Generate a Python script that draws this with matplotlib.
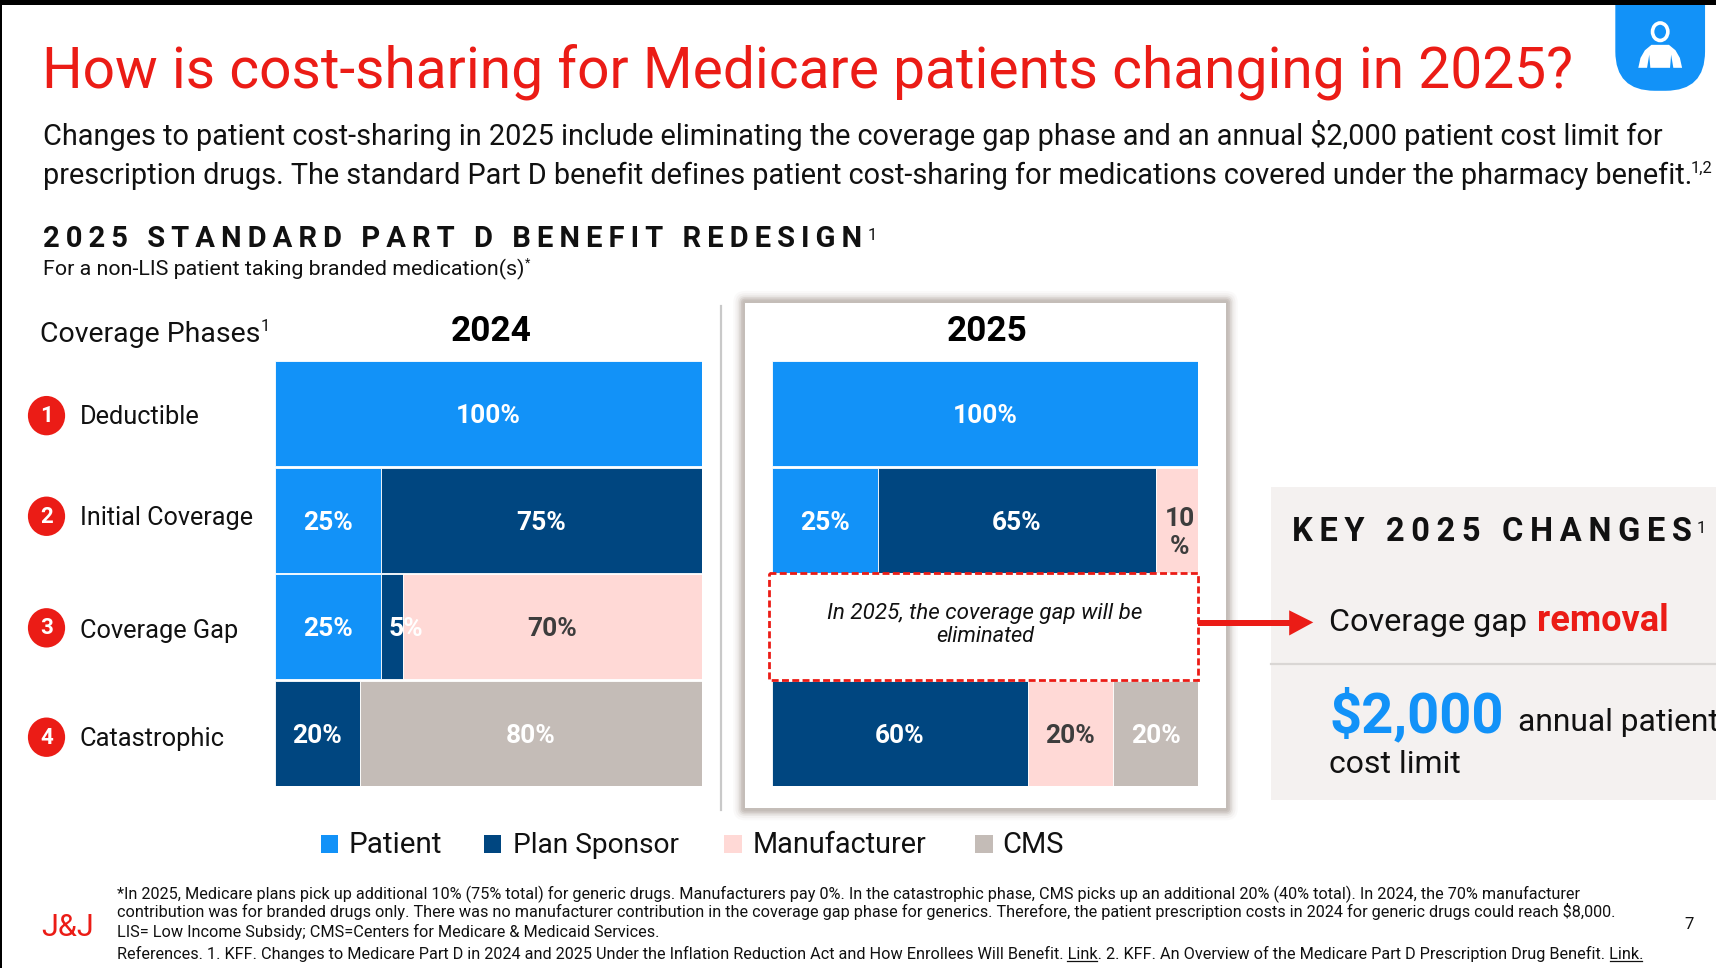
import matplotlib
matplotlib.use('Agg')
import matplotlib.pyplot as plt
from matplotlib.patches import Rectangle, Ellipse, FancyBboxPatch, Polygon

plt.rcParams['font.family'] = ['Roboto', 'Liberation Sans', 'DejaVu Sans']

# slide coordinates are the 1568x885 view of the picture
W, H = 1568, 885
SCALE = 1716 / W

RED = '#EB1C16'
BLUE = '#1292F8'
NAVY = '#004680'
PINK = '#FFD9D6'
GREY = '#C4BCB7'
PANEL = '#F4F1F0'

phases = ['Deductible', 'Initial Coverage', 'Coverage Gap', 'Catastrophic']
payers = ['Patient', 'Plan Sponsor', 'Manufacturer', 'CMS']
payer_colors = [BLUE, NAVY, PINK, GREY]

patient_2024 = [100, 25, 25, 0]
sponsor_2024 = [0, 75, 5, 20]
manufacturer_2024 = [0, 0, 70, 0]
cms_2024 = [0, 0, 0, 80]

patient_2025 = [100, 25, 0, 0]
sponsor_2025 = [0, 65, 0, 60]
manufacturer_2025 = [0, 10, 0, 20]
cms_2025 = [0, 0, 0, 20]

title = 'How is cost-sharing for Medicare patients changing in 2025?'
intro_1 = 'Changes to patient cost-sharing in 2025 include eliminating the coverage gap phase and an annual $2,000 patient cost limit for'
intro_2 = 'prescription drugs. The standard Part D benefit defines patient cost-sharing for medications covered under the pharmacy benefit.'
heading = '2025 STANDARD PART D BENEFIT REDESIGN'
subheading = 'For a non-LIS patient taking branded medication(s)'
key_heading = 'KEY 2025 CHANGES'
foot_1 = '*In 2025, Medicare plans pick up additional 10% (75% total) for generic drugs. Manufacturers pay 0%. In the catastrophic phase, CMS picks up an additional 20% (40% total). In 2024, the 70% manufacturer'
foot_2 = 'contribution was for branded drugs only. There was no manufacturer contribution in the coverage gap phase for generics. Therefore, the patient prescription costs in 2024 for generic drugs could reach $8,000.'
foot_3 = 'LIS= Low Income Subsidy; CMS=Centers for Medicare & Medicaid Services.'
foot_4 = 'References. 1. KFF. Changes to Medicare Part D in 2024 and 2025 Under the Inflation Reduction Act and How Enrollees Will Benefit. Link. 2. KFF. An Overview of the Medicare Part D Prescription Drug Benefit. Link.'

fig = plt.figure(figsize=(17.16, 9.68), dpi=100, facecolor='white')
page = fig.add_axes([0, 0, 1, 1])
page.set_xlim(0, W)
page.set_ylim(H, 0)
page.axis('off')
renderer = fig.canvas.get_renderer()


def put(x, y, s, width=None, size=14, ax=page, **kw):
    # baseline text, font size is fitted so the string gets the wanted width
    kw.setdefault('color', '#111111')
    t = ax.text(x, y, s, fontsize=size, va='baseline', **kw)
    if width is not None:
        now = t.get_window_extent(renderer).width
        t.set_fontsize(size * width * SCALE / now)
    return t


def spaced(s):
    return '\u2009'.join(s)


def stacked(left, right, top, bottom, patient, sponsor, manufacturer, cms):
    ax = fig.add_axes([left / W, 1 - bottom / H, (right - left) / W, (bottom - top) / H])
    ax.set_xlim(0, 100)
    ax.set_ylim(len(phases) - 0.5, -0.5)
    ax.axis('off')
    start = [0] * len(phases)
    for values, color in zip([patient, sponsor, manufacturer, cms], payer_colors):
        ax.barh(range(len(phases)), values, left=start, height=0.985, color=color,
                edgecolor='white', linewidth=0.6)
        for row, v in enumerate(values):
            if v == 0:
                continue
            label = f'{v}%'
            xc = start[row] + v / 2
            yc = row + 0.025
            tc = '#3D3D3D' if color == PINK else 'white'
            if v == 5:
                # this label does not fit its segment and runs over the pink one
                xc = start[row] + 5.8
            if v == 10:
                label = '10\n%'
                xc += 0.6
                yc = row + 0.12
            ax.text(xc, yc, label, color=tc, fontsize=19, fontweight='bold',
                    ha='center', va='center', linespacing=1.25)
        start = [a + b for a, b in zip(start, values)]
    return ax


# header strip and edge
page.add_patch(FancyBboxPatch((1476, -40), 82, 123, boxstyle='round,pad=0,rounding_size=36',
                              fc=BLUE, ec='none', zorder=1))
page.add_patch(Rectangle((0, 0), W, 5, fc='black', ec='none', zorder=2))
page.add_patch(Rectangle((0, 0), 1.5, H, fc='black', ec='none', zorder=2))
page.add_patch(Ellipse((1517, 29), 14, 16, fc='none', ec='white', lw=2.6, zorder=3))
page.add_patch(Polygon([(1497, 62), (1499, 53), (1503, 46), (1509, 41), (1525, 41), (1531, 46), (1535, 53), (1537, 62),
                        (1529, 62), (1527, 50), (1526, 62), (1508, 62), (1507, 50), (1505, 62)],
                       closed=True, fc='white', ec='none', zorder=3))

put(38.5, 80, title, width=1396, size=48, color=RED)
put(39, 133, intro_1, width=1476, size=20)
put(39, 168, intro_2, width=1505, size=20)
put(1545, 158, '1,2', width=20, size=11)
put(39, 226, spaced(heading), width=747, size=20, fontweight='bold')
put(793, 219, '1', size=12)
put(39, 252, subheading, width=441, size=15)
put(480, 244, '*', size=9)

# coverage phases column
put(37, 313, 'Coverage Phases', width=201, size=20)
put(238, 303, '1', size=12)
put(449, 312, '2024', width=74, size=24, ha='center', fontweight='bold', color='black')

circle_y = [380, 472, 574, 674]
label_y = [388, 480, 583, 682]
label_w = [110, 158, 145, 133]
for i, phase in enumerate(phases):
    page.add_patch(Ellipse((42.5, circle_y[i]), 34, 36, fc=RED, ec='none'))
    put(42.5, circle_y[i] + 6, str(i + 1), size=16, ha='center', color='white', fontweight='bold')
    put(73, label_y[i], phase, width=label_w[i], size=18.5)

page.plot([658.5, 658.5], [280, 741], color='#C9C9C9', lw=1.6)

# 2025 card with blurred grey edge
for grow, alpha in [(11, 0.08), (9, 0.12), (7, 0.2), (5.5, 0.35), (4, 0.6), (2.5, 0.9)]:
    page.add_patch(FancyBboxPatch((681 - grow, 277 - grow), 439 + 2 * grow, 462 + 2 * grow,
                                  boxstyle='round,pad=0,rounding_size=%g' % grow,
                                  fc=GREY, ec='none', alpha=alpha, zorder=1))
page.add_patch(Rectangle((681, 277), 439, 462, fc='white', ec='none', zorder=1.5))
put(902, 312, '2025', width=74, size=24, ha='center', fontweight='bold', color='black', zorder=3)

stacked(251, 641, 329.5, 719, patient_2024, sponsor_2024, manufacturer_2024, cms_2024)
stacked(705, 1095, 329.5, 719, patient_2025, sponsor_2025, manufacturer_2025, cms_2025)

# overlay above the inset axes
over = fig.add_axes([0, 0, 1, 1], facecolor='none')
over.set_xlim(0, W)
over.set_ylim(H, 0)
over.axis('off')

over.add_patch(Rectangle((703, 524), 392, 98, fc='white', ec=RED, lw=2, ls=(0, (2.5, 1.2))))
put(900, 566, 'In 2025, the coverage gap will be', width=288, size=15, ax=over, ha='center', style='italic')
put(900, 587, 'eliminated', width=90, size=15, ax=over, ha='center', style='italic')

# key changes panel
over.add_patch(Rectangle((1161, 445), W - 1161, 286, fc=PANEL, ec='none'))
over.plot([1161, W], [607, 607], color='#D9D6D4', lw=1.6)
over.add_patch(Rectangle((1095, 566.5), 84, 5.5, fc=RED, ec='none'))
over.add_patch(Polygon([(1178, 558), (1200, 569), (1178, 581)], closed=True, fc=RED, ec='none'))
put(1181, 495, spaced(key_heading), width=364, size=20, ax=over, fontweight='bold')
put(1550, 487, '1', size=12, ax=over)
put(1214.5, 577, 'Coverage gap', width=181, size=20, ax=over)
put(1404, 577, 'removal', width=120, size=20, ax=over, color=RED, fontweight='bold')
put(1214.5, 670, '$2,000', width=160, size=36, ax=over, color=BLUE, fontweight='bold')
put(1387, 668, 'annual patient', width=183, size=20, ax=over)
put(1214.5, 707, 'cost limit', width=120, size=20, ax=over)

# legend
legend_box = [293, 442, 662, 891]
legend_text = [318, 469, 688, 916]
legend_width = [85, 152, 159, 56]
for i, payer in enumerate(payers):
    over.add_patch(Rectangle((legend_box[i], 763), 16, 17, fc=payer_colors[i], ec='none'))
    put(legend_text[i], 780, payer, width=legend_width[i], size=20, ax=over)

# footer
put(38, 856, 'J&J', width=48, size=18, ax=over, color=RED)
put(1539, 849, '7', size=12, ax=over)
put(107, 822, foot_1, width=1336, size=12, ax=over)
put(107, 838, foot_2, width=1369, size=12, ax=over)
put(107, 857, foot_3, width=494, size=12, ax=over)
put(107, 877, foot_4, width=1393, size=12, ax=over)
over.plot([975, 1002], [879, 879], color='#111111', lw=0.9)
over.plot([1471, 1500], [879, 879], color='#111111', lw=0.9)

fig.savefig('out.png', dpi=100)
